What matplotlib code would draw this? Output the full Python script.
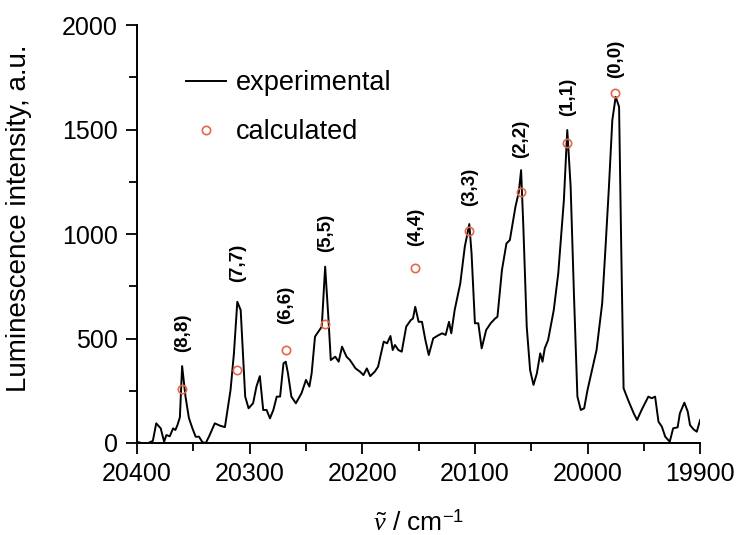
import matplotlib
matplotlib.use('Agg')
import matplotlib.pyplot as plt
from matplotlib.ticker import MultipleLocator

plt.rcParams['font.family'] = ['Liberation Sans', 'DejaVu Sans']
plt.rcParams['mathtext.fontset'] = 'custom'
plt.rcParams['mathtext.rm'] = 'Liberation Sans'
plt.rcParams['mathtext.it'] = 'Liberation Serif:italic'

# experimental spectrum
wavenumber = [20400, 20396, 20390, 20386, 20383, 20379, 20376, 20374, 20371, 20368,
              20366, 20364, 20362, 20360, 20357, 20354, 20351, 20348, 20345, 20342,
              20339, 20336, 20331, 20326, 20322, 20317, 20314, 20311, 20308, 20306,
              20304, 20301, 20297, 20294, 20291, 20288, 20285, 20282, 20279, 20276,
              20273, 20270, 20268, 20266, 20263, 20259, 20254, 20250, 20247, 20245,
              20242, 20239, 20236, 20233, 20230, 20228, 20224, 20221, 20218, 20214,
              20211, 20206, 20202, 20199, 20196, 20193, 20189, 20186, 20181, 20178,
              20175, 20173, 20171, 20168, 20165, 20161, 20157, 20155, 20153, 20150,
              20147, 20144, 20141, 20137, 20132, 20129, 20126, 20123, 20121, 20118,
              20113, 20109, 20105, 20103, 20100, 20097, 20094, 20090, 20086, 20082,
              20080, 20076, 20072, 20069, 20064, 20061, 20059, 20057, 20054, 20051,
              20048, 20045, 20042, 20040, 20038, 20035, 20030, 20026, 20021, 20018,
              20015, 20012, 20009, 20006, 20003, 20000, 19996, 19992, 19987, 19984,
              19981, 19978, 19975, 19972, 19970, 19968, 19964, 19959, 19956, 19952,
              19946, 19943, 19940, 19937, 19934, 19931, 19927, 19924, 19920, 19918,
              19914, 19911, 19909, 19906, 19903, 19900]
intensity = [5, 0, 0, 10, 94, 70, 6, 38, 32, 70,
             62, 88, 123, 368, 222, 120, 72, 30, 30, 4,
             0, 32, 94, 82, 76, 254, 429, 676, 636, 429,
             222, 166, 190, 270, 320, 158, 158, 118, 158, 222,
             222, 381, 389, 333, 222, 190, 238, 302, 270, 333,
             509, 533, 557, 844, 588, 397, 413, 389, 461, 413,
             397, 357, 341, 325, 357, 320, 341, 365, 485, 477,
             512, 445, 469, 445, 437, 557, 588, 596, 652, 580,
             580, 493, 421, 501, 517, 525, 517, 580, 525, 636,
             764, 939, 1048, 908, 573, 573, 453, 541, 573, 596,
             604, 828, 955, 971, 1131, 1202, 1306, 1035, 557, 349,
             278, 333, 429, 389, 453, 493, 636, 812, 1163, 1498,
             1226, 700, 222, 158, 166, 254, 349, 445, 668, 939,
             1226, 1545, 1657, 1609, 908, 262, 206, 142, 110, 158,
             222, 214, 222, 102, 78, 30, 6, 70, 75, 142,
             193, 150, 86, 66, 54, 110]

# calculated intensities
calc_x = [20359.7, 20311, 20268, 20233, 20153, 20105, 20059, 20018, 19975.5]
calc_y = [257, 349, 445, 569, 836, 1016, 1202, 1434, 1676]
labels = ['(8,8)', '(7,7)', '(6,6)', '(5,5)', '(4,4)', '(3,3)', '(2,2)', '(1,1)', '(0,0)']
# label heights (layout)
label_y = [526, 861, 660, 1005, 1035, 1226, 1458, 1657, 1840]

fig = plt.figure(figsize=(7.37, 5.35), dpi=100)
ax = fig.add_axes([0.186, 0.172, 0.764, 0.781])

ax.plot(wavenumber, intensity, color='black', lw=1.4, label='experimental')
ax.plot(calc_x, calc_y, 'o', ms=6, mfc='none', mec='#e4684a', mew=1.2,
        label='calculated')

for x, y, t in zip(calc_x, label_y, labels):
    ax.text(x, y, t, rotation=90, ha='center', va='center',
            fontsize=13.5, fontweight='bold')

ax.set_xlim(20400, 19900)
ax.set_ylim(0, 2000)
ax.xaxis.set_major_locator(MultipleLocator(100))
ax.xaxis.set_minor_locator(MultipleLocator(50))
ax.yaxis.set_major_locator(MultipleLocator(500))
ax.yaxis.set_minor_locator(MultipleLocator(250))

for s in ['top', 'right']:
    ax.spines[s].set_visible(False)
for s in ['left', 'bottom']:
    ax.spines[s].set_linewidth(1.4)

ax.tick_params(which='major', direction='out', length=8, width=1.3,
               labelsize=18, pad=6)
ax.tick_params(which='minor', direction='out', length=5.5, width=1.3)

ax.set_ylabel('Luminescence intensity, a.u.', fontsize=20)
ax.yaxis.set_label_coords(-0.186, 0.538)
ax.set_xlabel(r'$\tilde{\nu}$ / cm$^{-1}$', fontsize=19)
ax.xaxis.set_label_coords(0.5, -0.16)

leg = ax.legend(loc='upper left', bbox_to_anchor=(0.043, 0.95), frameon=False,
                fontsize=19.5, handlelength=1.5, handletextpad=0.35,
                labelspacing=0.85)

fig.savefig('out.png', dpi=100)
